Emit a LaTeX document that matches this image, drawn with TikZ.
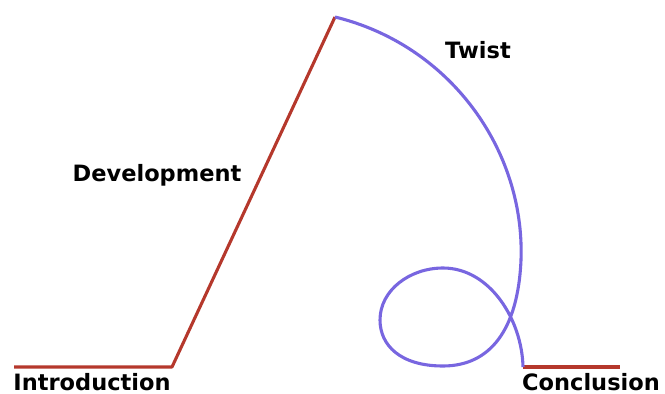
\documentclass[tikz,border=0pt]{standalone}
\usepackage{fontspec}
\setsansfont{DejaVu Sans}
\usepackage{tikz}
\usetikzlibrary{positioning}
\usepackage{xcolor}
\definecolor{plotred}{HTML}{B5382C}
\definecolor{plotpurple}{HTML}{7866E0}

\begin{document}
\begin{tikzpicture}[
    x=0.025cm, y=-0.025cm,
    stage/.style={font=\sffamily\bfseries\fontsize{16}{18}\selectfont, inner sep=0pt},
    plainline/.style={plotred, line width=2.2pt, line join=round},
    twistline/.style={plotpurple, line width=2.2pt}
]
    \useasboundingbox (0,0) rectangle (665,394);

    % Straight parts of the plot
    \draw[plainline] (14,367) -- (172,367) -- (335,17);
    \draw[plainline] (523,367) -- (620,367);

    % The twist with its loop
    \draw[twistline] (335,17) .. controls (450,45) and (525,150) .. (521,260)
        .. controls (518,330) and (490,366) .. (443,366)
        .. controls (400,366) and (380,345) .. (380,320)
        .. controls (380,290) and (410,268) .. (443,268)
        .. controls (490,268) and (522,320) .. (523,367);

    % Labels
    \node[stage] (intro) at (92,382) {Introduction};
    \node[stage] (devel) at (157,175) {Development};
    \node[stage] (twist) at (478,50) {Twist};
    \node[stage] (concl) at (591,382) {Conclusion};
\end{tikzpicture}
\end{document}
